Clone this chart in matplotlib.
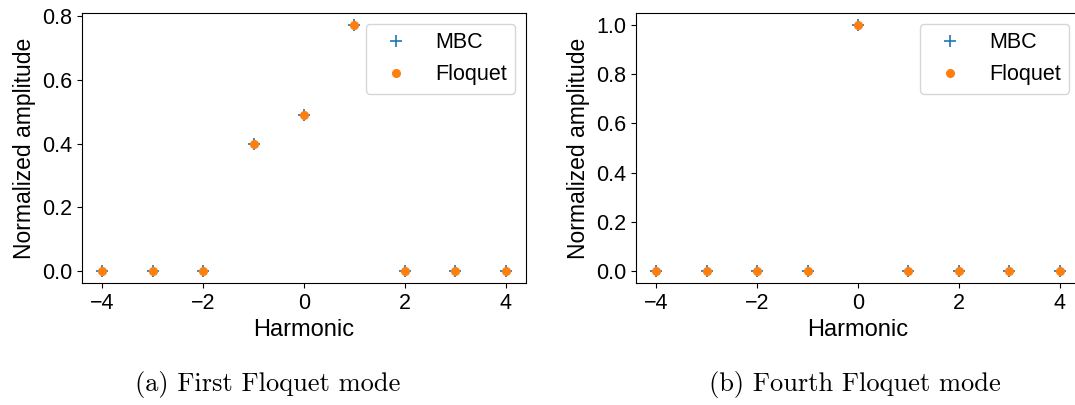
import numpy as np
import matplotlib.pyplot as plt

plt.rcParams['font.family'] = ['Liberation Sans', 'DejaVu Sans']
plt.rcParams['font.size'] = 15.5

harmonics = [-4, -3, -2, -1, 0, 1, 2, 3, 4]
mode1_mbc = [0.0, 0.0, 0.0, 0.398, 0.491, 0.772, 0.0, 0.0, 0.0]
mode1_floquet = [0.0, 0.0, 0.0, 0.398, 0.491, 0.772, 0.0, 0.0, 0.0]
mode4_mbc = [0.0, 0.0, 0.0, 0.0, 1.0, 0.0, 0.0, 0.0, 0.0]
mode4_floquet = [0.0, 0.0, 0.0, 0.0, 1.0, 0.0, 0.0, 0.0, 0.0]
captions = ['(a) First Floquet mode', '(b) Fourth Floquet mode']

fig = plt.figure(figsize=(10.75, 4.05), dpi=100)
ax1 = fig.add_axes([82 / 1075, 1 - 283 / 405, 444 / 1075, 270 / 405])
ax2 = fig.add_axes([636 / 1075, 1 - 283 / 405, 444 / 1075, 270 / 405])

for ax, mbc, flo in [(ax1, mode1_mbc, mode1_floquet), (ax2, mode4_mbc, mode4_floquet)]:
    ax.plot(harmonics, mbc, '+', color='C0', markersize=8.5, markeredgewidth=1.2, label='MBC')
    ax.plot(harmonics, flo, '.', color='C1', markersize=11, label='Floquet')
    ax.set_xlabel('Harmonic', fontsize=17)
    ax.set_ylabel('Normalized amplitude', fontsize=16.5)
    ax.set_xticks([-4, -2, 0, 2, 4])
    ax.legend(loc='upper right')

ax1.set_yticks([0.0, 0.2, 0.4, 0.6, 0.8])
ax2.set_yticks([0.0, 0.2, 0.4, 0.6, 0.8, 1.0])

fig.text(268 / 1075, 1 - 385 / 405, captions[0], ha='center', va='center',
         family='cmr10', fontsize=19)
fig.text(855 / 1075, 1 - 385 / 405, captions[1], ha='center', va='center',
         family='cmr10', fontsize=19)

fig.savefig('out.png', dpi=100)
